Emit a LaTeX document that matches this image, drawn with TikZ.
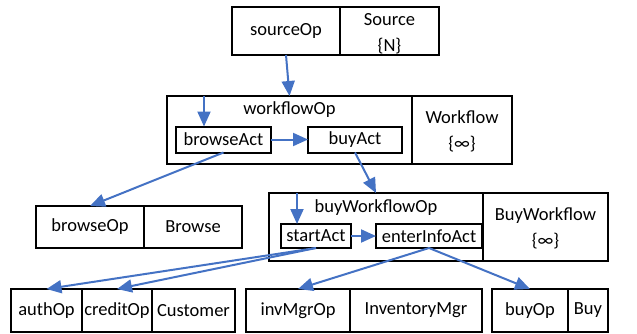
\documentclass[tikz,border=0pt]{standalone}
\usepackage{fontspec}
\setmainfont{Carlito}
\usetikzlibrary{arrows.meta}
\definecolor{flow}{RGB}{68,114,196}
\begin{document}
\begin{tikzpicture}[x=1pt,y=-1pt,
  every node/.style={font=\fontsize{18.5}{26}\selectfont, inner sep=0pt, outer sep=0pt},
  cell/.style={draw=black, line width=2pt, minimum width=#1, align=center},
  big/.style={cell=#1, minimum height=48pt},
  mid/.style={cell=#1, minimum height=42pt},
  bot/.style={cell=#1, minimum height=43pt},
  outer/.style={cell=#1, minimum height=68pt},
  act/.style={draw=black, line width=2pt, minimum width=#1, minimum height=26pt},
  twoline/.style={align=center},
  flowarrow/.style={draw=flow, line width=2pt, -{Triangle[length=15pt,width=13pt]}}]
\useasboundingbox (0,0) rectangle (637,333);

% source operator
\node[big=108pt] (sourceOp) at (286,31) {sourceOp};
\node[big=99pt] (source) at (389.5,31) {};
\node[twoline] at (389.5,34) {Source\\\{N\}};

% workflow operator with its activities
\node[outer=245pt] (workflowOp) at (289.5,130) {};
\node at (289.5,110) {workflowOp};
\node[outer=100pt] (workflow) at (462,130) {};
\node[twoline] at (462,131) {Workflow\\\{∞\}};
\node[act=95pt] (browseAct) at (223.5,139.5) {browseAct};
\node[act=94pt] (buyAct) at (355,139.5) {buyAct};

% browse operator
\node[mid=108pt] (browseOp) at (90,227) {browseOp};
\node[mid=98pt] (browse) at (193,227) {Browse};

% buy workflow operator with its activities
\node[outer=214pt] (buyWorkflowOp) at (376,227) {};
\node at (376,208) {buyWorkflowOp};
\node[outer=125pt] (buyWorkflow) at (545.5,227) {};
\node[twoline] at (545.5,228.5) {BuyWorkflow\\\{∞\}};
\node[act=70pt, minimum height=24pt] (startAct) at (316,236) {startAct};
\node[act=106pt, minimum height=24pt] (enterInfoAct) at (429,236) {enterInfoAct};

% bottom row operators
\node[bot=71pt] (authOp) at (46.5,310.5) {authOp};
\node[bot=70pt] (creditOp) at (117,310.5) {creditOp};
\node[bot=83pt] (customer) at (193.5,310.5) {Customer};
\node[bot=104pt] (invMgrOp) at (298,310.5) {invMgrOp};
\node[bot=132pt] (inventoryMgr) at (416,310.5) {InventoryMgr};
\node[bot=76pt] (buyOp) at (530,310.5) {buyOp};
\node[bot=40pt] (buy) at (588,310.5) {Buy};

% entry points of the workflows
\coordinate (wfEntry) at ([xshift=-19.5pt]browseAct.north |- workflowOp.north);
\coordinate (bwfEntry) at ([xshift=-19pt]startAct.north |- buyWorkflowOp.north);

% control flow
\draw[flowarrow] (sourceOp.south) -- (workflowOp.north);
\draw[flowarrow] (wfEntry) -- (wfEntry |- browseAct.north);
\draw[flowarrow] (browseAct.east) -- (buyAct.west);
\draw[flowarrow] (browseAct.south) -- (browseOp.north);
\draw[flowarrow] (buyAct.south) -- (buyWorkflowOp.north);
\draw[flowarrow] (bwfEntry) -- (bwfEntry |- startAct.north);
\draw[flowarrow] (startAct.east) -- (enterInfoAct.west);
\draw[flowarrow] (startAct.south) -- (authOp.north);
\draw[flowarrow] (startAct.south) -- (creditOp.north);
\draw[flowarrow] (enterInfoAct.south) -- (invMgrOp.north);
\draw[flowarrow] (enterInfoAct.south) -- (buyOp.north);
\end{tikzpicture}
\end{document}
